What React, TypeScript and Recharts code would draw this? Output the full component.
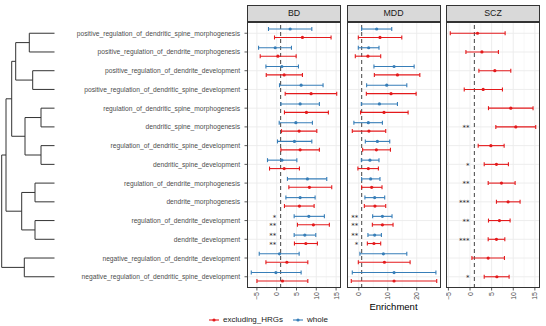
import React from "react";
import {
  ComposedChart,
  LineChart,
  Line,
  Scatter,
  ErrorBar,
  XAxis,
  YAxis,
  ReferenceLine,
} from "recharts";

const TERMS = [
  "positive_regulation_of_dendritic_spine_morphogenesis",
  "positive_regulation_of_dendrite_morphogenesis",
  "positive_regulation_of_dendrite_development",
  "positive_regulation_of_dendritic_spine_development",
  "regulation_of_dendritic_spine_morphogenesis",
  "dendritic_spine_morphogenesis",
  "regulation_of_dendritic_spine_development",
  "dendritic_spine_development",
  "regulation_of_dendrite_morphogenesis",
  "dendrite_morphogenesis",
  "regulation_of_dendrite_development",
  "dendrite_development",
  "negative_regulation_of_dendrite_development",
  "negative_regulation_of_dendritic_spine_development",
];

// [lower, estimate, upper] per term
const BD_WHOLE = [
  [-2.07, 3.4, 8.87], [-4.58, -0.38, 3.73], [-2.72, 1.31, 5.49], [0.71, 6.17, 11.71],
  [1.06, 5.92, 10.78], [0.63, 4.84, 9.02], [0.2, 4.48, 8.87], [-2.32, 1.31, 5.09],
  [2.72, 7.76, 12.64], [2.32, 5.92, 9.7], [4.41, 8.11, 12.04], [4.41, 7.1, 9.87],
  [-4.41, 0.71, 5.67], [-6.42, -0.2, 6.17],
];
const BD_EXCL = [
  [-0.55, 6.5, 13.73], [-4.16, 0.3, 4.91], [-2.64, 1.89, 6.5], [2.14, 8.69, 15.16],
  [1.96, 7.51, 13.05], [1.21, 5.67, 10.13], [1.06, 5.92, 10.78], [-1.81, 1.89, 5.74],
  [3.07, 8.26, 13.9], [1.96, 5.74, 9.45], [5.24, 9.27, 13.3], [4.48, 7.36, 10.28],
  [-2.72, 2.57, 7.86], [-4.99, 1.46, 7.86],
];
const MDD_WHOLE = [
  [0.97, 6.17, 11.37], [-0.17, 3.4, 6.97], [5.23, 12.17, 19.1], [2.7, 9.64, 16.57],
  [0.87, 7.11, 13.34], [-1.7, 3.29, 8.15], [2.25, 6.41, 10.68], [0.87, 3.85, 6.97],
  [0.97, 4.09, 7.31], [2.11, 5.48, 8.94], [4.78, 8.15, 11.47], [3.15, 5.48, 7.8],
  [0.38, 8.49, 16.57], [-2.25, 12.17, 26.62],
];
const MDD_EXCL = [
  [-0.17, 7.31, 14.84], [-1.21, 3.15, 7.56], [5.37, 13.34, 21.07], [2.6, 11.13, 19.79],
  [0.62, 8.7, 17.02], [-2.25, 3.5, 9.29], [1.32, 6.07, 10.92], [-0.31, 3.29, 6.76],
  [0.97, 4.44, 8.01], [1.91, 5.58, 9.29], [4.68, 8.15, 11.82], [2.95, 5.23, 7.56],
  [-0.17, 8.84, 17.71], [-2.6, 12.17, 26.9],
];
const SCZ_EXCL = [
  [-4.57, 1.73, 8.12], [-0.95, 2.75, 6.57], [2.05, 5.74, 9.43], [-1.34, 3.04, 7.5],
  [4.27, 9.43, 14.58], [5.97, 10.59, 15.2], [1.89, 4.82, 7.89], [3.28, 6.11, 8.88],
  [4.2, 7.27, 10.43], [6.11, 8.81, 11.58], [4.27, 6.8, 9.27], [4.2, 6.11, 8.05],
  [0.44, 4.2, 7.96], [3.28, 6.21, 9.04],
];

const BD_WHOLE_SIG = ["", "", "", "", "", "", "", "", "", "", "*", "**", "", ""];
const BD_EXCL_SIG = ["", "", "", "", "", "", "", "", "", "", "**", "**", "", ""];
const MDD_WHOLE_SIG = ["", "", "", "", "", "", "", "", "", "", "**", "**", "", ""];
const MDD_EXCL_SIG = ["", "", "", "", "", "", "", "", "", "", "**", "*", "", ""];
const SCZ_EXCL_SIG = ["", "", "", "", "", "**", "", "*", "**", "***", "**", "***", "", "*"];

const BD_TICKS = [-5, 0, 5, 10, 15];
const MDD_TICKS = [0, 10, 20];
const SCZ_TICKS = [-5, 0, 5, 10, 15];

// hclust-style merges: negative = leaf row, positive = earlier merge; last value = height
const MERGES = [
  [-1, -2, 25.2], [-3, -4, 21.8], [1, 2, 38.8], [-5, -6, 13.5], [-7, -8, 13.5],
  [4, 5, 29.5], [3, 6, 42.8], [-9, -10, 19.5], [-11, -12, 19.5], [8, 9, 32.8],
  [7, 10, 48.5], [-13, -14, 30.2], [11, 12, 52.8],
];

const RED = "#E41A1C";
const BLUE = "#377EB8";
const FONT = "'Liberation Sans', Arial, Helvetica, sans-serif";
const STAR_FONT = "'DejaVu Sans', sans-serif";

const STRIP_TOP = 5;
const STRIP_H = 17;
const PLOT_TOP = STRIP_TOP + STRIP_H;
const PLOT_H = 266;
const AXIS_H = 20;
const PANEL_W = 94;
const LABEL_W = 192;
const DENDRO_W = 54.5;
const DODGE = 0.225;
const Y_DOMAIN = [0.4, TERMS.length + 0.6];
const ROW_PX = PLOT_H / (Y_DOMAIN[1] - Y_DOMAIN[0]);
const ROW_IDS = TERMS.map((_, i) => i + 1);

const fmt = (v: number) => (v < 0 ? "\u2212" + Math.abs(v) : String(v));

const RotTick = (p: any) => (
  <text
    x={p.x}
    y={p.y}
    transform={`rotate(-90 ${p.x} ${p.y})`}
    textAnchor="end"
    dominantBaseline="central"
    fontSize={7}
    fontFamily={FONT}
    fill="#4D4D4D"
  >
    {fmt(p.payload.value)}
  </text>
);

const TermTick = (p: any) => (
  <text
    x={p.x}
    y={p.y}
    textAnchor="end"
    dominantBaseline="central"
    fontSize={6.7}
    fontFamily={FONT}
    fill="#4D4D4D"
  >
    {TERMS[p.payload.value - 1]}
  </text>
);

const Dot = (color: string) => (p: any) =>
  <circle cx={p.cx} cy={p.cy} r={1.6} fill={color} />;

// one text per row; each series' stars sit on that series' dodged line
const Stars = (p: any) => (
  <text textAnchor="end" fontSize={7} fontFamily={STAR_FONT} fill="#1A1A1A">
    {p.payload.marks.map((m: any, i: number) => (
      <tspan key={i} x={p.cx - 0.5} y={p.cy + m.shift * ROW_PX + 3.4}>
        {m.sig}
      </tspan>
    ))}
  </text>
);

type Series = { vals: number[][]; sig: string[]; color: string; shift: number };

function Panel({
  title,
  left,
  series,
  ticks,
  labels,
}: {
  title: string;
  left: number;
  series: Series[];
  ticks: number[];
  labels?: boolean;
}) {
  const all = series.flatMap((s) => s.vals.flat());
  const lo = Math.min(...all);
  const hi = Math.max(...all);
  const pad = (hi - lo) * 0.05;
  const domain = [lo - pad, hi + pad];
  const step = ticks[1] - ticks[0];
  const minor = [ticks[0] - step / 2, ...ticks.map((t) => t + step / 2)].filter(
    (v) => v > domain[0] && v < domain[1]
  );
  const yw = labels ? LABEL_W : 0;
  const starRows = ROW_IDS.map((r) => ({
    x: 0,
    y: r,
    marks: series
      .filter((s) => s.sig[r - 1])
      .map((s) => ({ sig: s.sig[r - 1], shift: s.shift })),
  })).filter((d) => d.marks.length);

  return (
    <div style={{ position: "absolute", left: left - yw, top: STRIP_TOP }}>
      <div
        style={{
          marginLeft: yw,
          width: PANEL_W,
          height: STRIP_H,
          boxSizing: "border-box",
          border: "0.8px solid #333",
          background: "#D9D9D9",
          color: "#1A1A1A",
          fontFamily: FONT,
          fontSize: 8.8,
          lineHeight: `${STRIP_H - 1.6}px`,
          textAlign: "center",
        }}
      >
        {title}
      </div>
      <ComposedChart
        width={yw + PANEL_W}
        height={PLOT_H + AXIS_H}
        margin={{ top: 0, right: 0, bottom: 0, left: 0 }}
      >
        <XAxis
          type="number"
          dataKey="x"
          domain={domain}
          allowDataOverflow
          ticks={ticks}
          interval={0}
          height={AXIS_H}
          axisLine={false}
          tickLine={{ stroke: "#333", strokeWidth: 0.8 }}
          tickSize={2.5}
          tickMargin={1.5}
          tick={<RotTick />}
        />
        <YAxis
          type="number"
          dataKey="y"
          domain={Y_DOMAIN}
          reversed
          allowDataOverflow
          ticks={ROW_IDS}
          interval={0}
          width={yw}
          hide={!labels}
          axisLine={false}
          tickLine={{ stroke: "#333", strokeWidth: 0.8 }}
          tickSize={2.5}
          tickMargin={4.5}
          tick={<TermTick />}
        />
        {minor.map((v) => (
          <ReferenceLine key={"m" + v} x={v} stroke="#F2F2F2" strokeWidth={0.6} />
        ))}
        {ROW_IDS.map((r) => (
          <ReferenceLine key={"r" + r} y={r} stroke="#EBEBEB" strokeWidth={0.9} />
        ))}
        {ticks.map((v) => (
          <ReferenceLine key={"t" + v} x={v} stroke="#EBEBEB" strokeWidth={0.9} />
        ))}
        <ReferenceLine x={1} stroke="#444" strokeWidth={1} strokeDasharray="4 3" />
        {series.map((s, k) => (
          <Scatter
            key={k}
            data={s.vals.map(([l, m, u], i) => ({
              x: m,
              y: i + 1 + s.shift,
              err: [m - l, u - m],
            }))}
            fill={s.color}
            shape={Dot(s.color)}
            isAnimationActive={false}
          >
            <ErrorBar
              dataKey="err"
              direction="x"
              width={2}
              stroke={s.color}
              strokeWidth={1.1}
            />
          </Scatter>
        ))}
        <Scatter data={starRows} shape={Stars} isAnimationActive={false} />
      </ComposedChart>
      <div
        style={{
          position: "absolute",
          left: yw,
          top: STRIP_H,
          width: PANEL_W,
          height: PLOT_H,
          boxSizing: "border-box",
          border: "0.8px solid #333",
          pointerEvents: "none",
        }}
      />
    </div>
  );
}

function Dendrogram() {
  const nodes: { h: number; y: number }[] = [];
  const at = (c: number) => (c < 0 ? { h: 0, y: -c } : nodes[c - 1]);
  const paths = MERGES.map(([a, b, h]) => {
    const A = at(a);
    const B = at(b);
    nodes.push({ h, y: (A.y + B.y) / 2 });
    return [
      { h: A.h, y: A.y },
      { h, y: A.y },
      { h, y: B.y },
      { h: B.h, y: B.y },
    ];
  });
  return (
    <div style={{ position: "absolute", left: 0, top: PLOT_TOP }}>
      <LineChart
        width={DENDRO_W}
        height={PLOT_H}
        margin={{ top: 0, right: 0, bottom: 0, left: 0 }}
      >
        <XAxis type="number" dataKey="h" domain={[0, DENDRO_W]} reversed hide />
        <YAxis type="number" domain={Y_DOMAIN} reversed hide />
        {paths.map((d, i) => (
          <Line
            key={i}
            data={d}
            dataKey="y"
            stroke="#333"
            strokeWidth={1}
            dot={false}
            type="linear"
            isAnimationActive={false}
          />
        ))}
      </LineChart>
    </div>
  );
}

const LegendKey = ({ color }: { color: string }) => (
  <svg width={12} height={8} style={{ display: "block" }}>
    <line x1={1} y1={4} x2={11} y2={4} stroke={color} strokeWidth={1.1} />
    <circle cx={6} cy={4} r={1.6} fill={color} />
  </svg>
);

export default function App() {
  return (
    <div
      style={{
        position: "absolute",
        left: 0,
        top: 0,
        width: 546,
        height: 326,
        background: "#fff",
        overflow: "hidden",
        fontFamily: FONT,
      }}
    >
      <Dendrogram />
      <Panel
        title="BD"
        left={247}
        labels
        ticks={BD_TICKS}
        series={[
          { vals: BD_WHOLE, sig: BD_WHOLE_SIG, color: BLUE, shift: -DODGE },
          { vals: BD_EXCL, sig: BD_EXCL_SIG, color: RED, shift: DODGE },
        ]}
      />
      <Panel
        title="MDD"
        left={346.5}
        ticks={MDD_TICKS}
        series={[
          { vals: MDD_WHOLE, sig: MDD_WHOLE_SIG, color: BLUE, shift: -DODGE },
          { vals: MDD_EXCL, sig: MDD_EXCL_SIG, color: RED, shift: DODGE },
        ]}
      />
      <Panel
        title="SCZ"
        left={446}
        ticks={SCZ_TICKS}
        series={[{ vals: SCZ_EXCL, sig: SCZ_EXCL_SIG, color: RED, shift: 0 }]}
      />
      <div
        style={{
          position: "absolute",
          left: 346.5,
          width: PANEL_W,
          top: 301,
          textAlign: "center",
          fontSize: 9.5,
          color: "#000",
        }}
      >
        Enrichment
      </div>
      <div
        style={{
          position: "absolute",
          left: 208,
          top: 315,
          display: "flex",
          alignItems: "center",
          fontSize: 8,
          color: "#1A1A1A",
          lineHeight: "10px",
        }}
      >
        <LegendKey color={RED} />
        <span style={{ marginLeft: 3 }}>excluding_HRGs</span>
        <span style={{ width: 9 }} />
        <LegendKey color={BLUE} />
        <span style={{ marginLeft: 3 }}>whole</span>
      </div>
    </div>
  );
}
